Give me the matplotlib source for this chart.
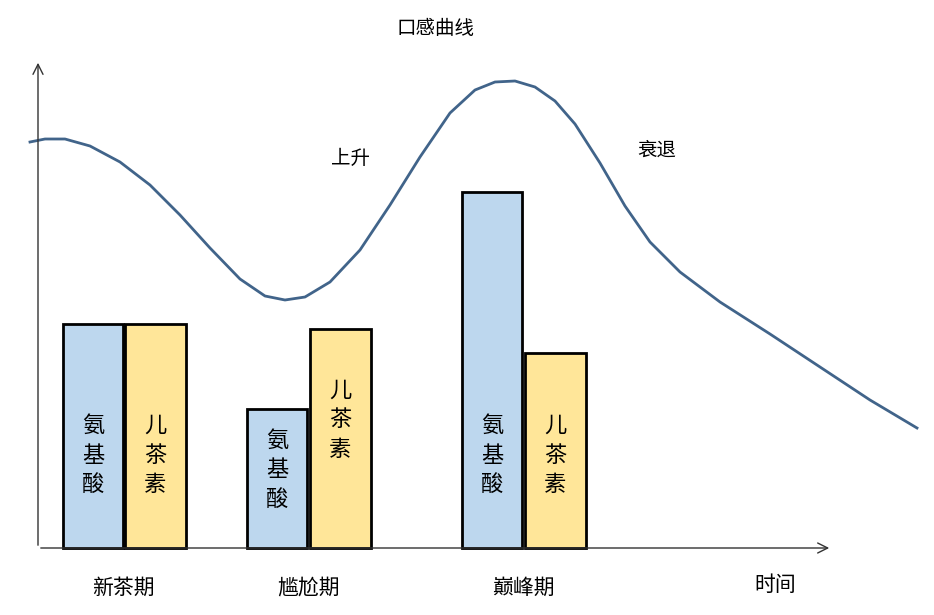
import matplotlib
matplotlib.use("Agg")
import matplotlib.pyplot as plt

plt.rcParams['font.family'] = ['Noto Sans CJK SC', 'DejaVu Sans']

H = 615
periods = ['新茶期', '尴尬期', '巅峰期']
amino_x = [93, 277, 492]
amino_h = [224, 139, 356]
cate_x = [155, 340, 555]
cate_h = [224, 219, 195]
amino_label_y = [455, 470, 455]
cate_label_y = [455, 420, 455]
curve_x = [30, 45, 65, 90, 120, 150, 180, 210, 240, 265, 285, 305, 330, 360, 390, 420, 450, 475, 495, 515, 535, 555, 575, 600, 625, 650, 680, 720, 770, 820, 870, 917]
curve_yp = [142, 139, 139, 146, 162, 185, 215, 248, 279, 296, 300, 297, 282, 250, 205, 157, 113, 90, 82, 81, 87, 101, 124, 163, 206, 242, 272, 302, 334, 367, 400, 428]
curve_y = [H - v for v in curve_yp]
base = H - 548

fig = plt.figure(figsize=(9.34, 6.15), dpi=100)
ax = fig.add_axes([0, 0, 1, 1])
ax.set_xlim(0, 934)
ax.set_ylim(0, H)
ax.axis('off')

ax.bar(amino_x, amino_h, width=60, bottom=base, color='#bdd7ee', edgecolor='black', linewidth=2)
ax.bar(cate_x, cate_h, width=61, bottom=base, color='#ffe699', edgecolor='black', linewidth=2)

for x, y in zip(amino_x, amino_label_y):
    ax.text(x, H - y, '氨\n基\n酸', ha='center', va='center', fontsize=16, linespacing=1.35)
for x, y in zip(cate_x, cate_label_y):
    ax.text(x, H - y, '儿\n茶\n素', ha='center', va='center', fontsize=16, linespacing=1.35)

ax.plot(curve_x, curve_y, color='#41648a', lw=2)

ax.annotate('', xy=(38, H - 60), xytext=(38, base), arrowprops=dict(arrowstyle='->', color='#333333', lw=1, mutation_scale=18))
ax.annotate('', xy=(832, base), xytext=(38, base), arrowprops=dict(arrowstyle='->', color='#333333', lw=1, mutation_scale=18))

ax.text(436, H - 28, '口感曲线', ha='center', va='center', fontsize=14)
for x, p in zip([123, 308, 523], periods):
    ax.text(x, H - 588, p, ha='center', va='center', fontsize=15)
ax.text(775, H - 585, '时间', ha='center', va='center', fontsize=15)
ax.text(350, H - 158, '上升', ha='center', va='center', fontsize=14)
ax.text(657, H - 150, '衰退', ha='center', va='center', fontsize=14)

fig.savefig('out.png', dpi=100)
